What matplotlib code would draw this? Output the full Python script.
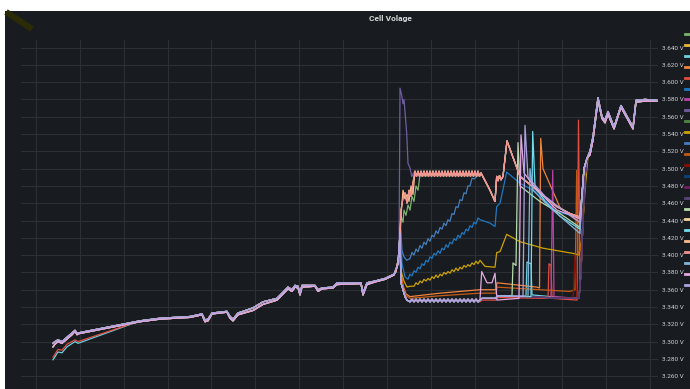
import matplotlib
matplotlib.use("Agg")
import matplotlib.pyplot as plt
from matplotlib.patches import Rectangle
from matplotlib.lines import Line2D

plt.rcParams['font.family'] = ['Roboto', 'DejaVu Sans']

# time axis in minutes, voltage in V
TRUNK_HEAD_T = [53, 55, 58, 62, 65, 68, 72, 75, 77, 78]
TRUNK_HEAD_V = [3.298, 3.300, 3.302, 3.300, 3.303, 3.306, 3.310, 3.313, 3.310, 3.310]
TRUNK_HEAD2_V = [3.294, 3.297, 3.300, 3.298, 3.301, 3.304, 3.308, 3.312, 3.308, 3.309]
LOW_HEAD_T = [53, 58, 62, 67, 75, 78]
CYAN_HEAD_V = [3.279, 3.288, 3.287, 3.294, 3.300, 3.298]
RED_HEAD_V = [3.282, 3.291, 3.290, 3.297, 3.302, 3.300]
TRUNK_BODY_T = [140, 160, 190, 202, 205, 208, 212, 227, 230, 233, 238, 253, 263, 277, 288, 292,
                295, 298, 300, 302, 315, 318, 322, 333, 337, 361, 363, 367, 375, 385, 394]
TRUNK_BODY_V = [3.324, 3.327, 3.329, 3.332, 3.325, 3.326, 3.333, 3.335, 3.329, 3.326, 3.333, 3.339,
                3.346, 3.350, 3.363, 3.360, 3.365, 3.364, 3.356, 3.365, 3.365, 3.360, 3.362, 3.363,
                3.368, 3.368, 3.356, 3.368, 3.370, 3.373, 3.378]
TRUNK_BODY2_V = [3.323, 3.326, 3.328, 3.331, 3.323, 3.324, 3.332, 3.334, 3.327, 3.324, 3.331, 3.336,
                 3.343, 3.348, 3.361, 3.358, 3.363, 3.362, 3.354, 3.363, 3.364, 3.358, 3.361, 3.362,
                 3.366, 3.367, 3.354, 3.366, 3.369, 3.372, 3.377]

FINAL_T = [590, 593, 598, 602, 605, 608, 614, 621, 633, 636, 645, 657]
FINAL_V = [3.520, 3.537, 3.582, 3.560, 3.556, 3.566, 3.548, 3.573, 3.548, 3.579, 3.580, 3.579]
FINAL2_V = [3.516, 3.533, 3.579, 3.558, 3.553, 3.563, 3.546, 3.571, 3.546, 3.577, 3.578, 3.578]

# cells that sit low after the jump
BASE_DROP_T = [398, 400, 401, 403, 405, 407]
BASE_DROP_V = [3.390, 3.425, 3.368, 3.360, 3.352, 3.348]
BASE_TEETH_T = [410, 412, 414, 416, 418, 420, 422, 424, 426, 428, 430, 432, 434, 436, 438, 440, 442, 444,
                446, 448, 450, 452, 454, 456, 458, 460, 462, 464, 466, 468, 470, 472, 474, 476, 478]
BASE_TEETH_V = [3.346, 3.349, 3.346, 3.349, 3.346, 3.349, 3.346, 3.349, 3.346, 3.349, 3.346, 3.349,
                3.346, 3.349, 3.346, 3.349, 3.346, 3.349, 3.346, 3.349, 3.346, 3.349, 3.346, 3.349,
                3.346, 3.349, 3.346, 3.349, 3.346, 3.349, 3.346, 3.349, 3.346, 3.349, 3.346]
PLAIN_T = [480, 482, 496, 497, 530, 560, 579, 581, 583, 585, 587]
PLAIN_V = [3.348, 3.350, 3.350, 3.353, 3.352, 3.350, 3.350, 3.380, 3.440, 3.490, 3.512]

# cells that sit at the 3.497 plateau
PEACH_T = [415, 416.5, 418, 419.5, 421, 422.5, 424, 425.5, 427, 428.5, 430, 431.5, 433, 434.5, 436,
           437.5, 439, 440.5, 442, 443.5, 445, 446.5, 448, 449.5, 451, 452.5, 454, 455.5, 457, 458.5,
           460, 461.5, 463, 464.5, 466, 467.5, 469, 470.5, 472, 473.5, 475, 476.5, 478, 479.5]
PEACH_V = [3.497, 3.491, 3.497, 3.491, 3.497, 3.491, 3.497, 3.491, 3.497, 3.491, 3.497, 3.491,
           3.497, 3.491, 3.497, 3.491, 3.497, 3.491, 3.497, 3.491, 3.497, 3.491, 3.497, 3.491,
           3.497, 3.491, 3.497, 3.491, 3.497, 3.491, 3.497, 3.491, 3.497, 3.491, 3.497, 3.491,
           3.497, 3.491, 3.497, 3.491, 3.497, 3.491, 3.497, 3.491]
PEACH_END_T = [481, 490, 495, 496.7, 498, 499.5, 501, 503, 507, 520, 537, 557, 570, 580, 582, 584, 587]
PEACH_END_V = [3.495, 3.475, 3.462, 3.491, 3.486, 3.492, 3.487, 3.491, 3.532, 3.491, 3.475, 3.456,
               3.448, 3.444, 3.470, 3.500, 3.512]
PEACH_PRE_T = [396, 399, 401, 403, 405, 407, 409, 411, 413]
PEACH_PRE_V = [3.381, 3.400, 3.445, 3.475, 3.465, 3.470, 3.462, 3.480, 3.470]
PEACH_PRE2_V = [3.381, 3.400, 3.452, 3.466, 3.472, 3.460, 3.475, 3.468, 3.484]

GREEN_PRE_T = [396, 399, 401, 403, 404, 406, 408, 410, 412, 414, 416, 418, 420]
GREEN_PRE_V = [3.381, 3.400, 3.445, 3.438, 3.452, 3.446, 3.458, 3.452, 3.468, 3.462, 3.480, 3.475, 3.493]

SPIKE_PRE_T = [396, 399, 400, 401.7, 403, 404, 406.7, 408, 410, 411.7, 413]
SPIKE_PRE_V = [3.381, 3.400, 3.593, 3.585, 3.575, 3.580, 3.541, 3.506, 3.501, 3.491, 3.494]

BLUE1_PRE_T = [396, 399, 400.5, 402, 404, 406.7]
BLUE1_PRE_V = [3.381, 3.400, 3.435, 3.405, 3.398, 3.394]
BLUE1_T = [410, 412, 414, 416, 418, 420, 422, 424, 426, 428, 430, 432, 434, 436, 438, 440, 442,
           444, 446, 448, 450, 452, 454, 456, 458, 460, 462, 464, 466, 468, 470, 472, 474]
BLUE1_V = [3.396, 3.403, 3.400, 3.407, 3.404, 3.411, 3.408, 3.415, 3.412, 3.419, 3.416, 3.423,
           3.421, 3.428, 3.425, 3.432, 3.430, 3.437, 3.434, 3.441, 3.439, 3.448, 3.447, 3.456,
           3.455, 3.464, 3.463, 3.472, 3.471, 3.480, 3.480, 3.489, 3.488]

BLUE2_PRE_T = [396, 399, 400.5, 402, 405]
BLUE2_PRE_V = [3.381, 3.400, 3.430, 3.390, 3.375]
BLUE2_T = [408, 410, 412, 414, 416, 418, 420, 422, 424, 426, 428, 430, 432, 434, 436, 438, 440, 442,
           444, 446, 448, 450, 452, 454, 456, 458, 460, 462, 464, 466, 468, 470, 472, 474, 476, 478, 480]
BLUE2_V = [3.372, 3.378, 3.376, 3.382, 3.380, 3.386, 3.384, 3.390, 3.388, 3.394, 3.392, 3.398,
           3.396, 3.402, 3.400, 3.405, 3.402, 3.408, 3.406, 3.412, 3.409, 3.415, 3.413, 3.419,
           3.417, 3.423, 3.420, 3.426, 3.424, 3.430, 3.428, 3.434, 3.432, 3.438, 3.436, 3.443, 3.441]
BLUE2_END_T = [490, 495, 496.7, 500, 506.7, 520, 536.7, 556.7, 580, 582, 584, 587]
BLUE2_END_V = [3.437, 3.433, 3.456, 3.460, 3.496, 3.483, 3.473, 3.450, 3.444, 3.470, 3.500, 3.512]

YELLOW_PRE_T = [396, 399, 401, 404, 407, 410]
YELLOW_PRE_V = [3.381, 3.400, 3.382, 3.370, 3.363, 3.364]
YELLOW_T = [414, 416, 418, 420, 422, 424, 426, 428, 430, 432, 434, 436, 438, 440, 442, 444, 446,
            448, 450, 452, 454, 456, 458, 460, 462, 464, 466, 468, 470, 472, 474, 476, 478, 480]
YELLOW_V = [3.364, 3.368, 3.366, 3.370, 3.368, 3.372, 3.370, 3.373, 3.371, 3.375, 3.373, 3.377,
            3.374, 3.378, 3.376, 3.380, 3.378, 3.381, 3.379, 3.383, 3.381, 3.385, 3.382, 3.386,
            3.384, 3.388, 3.386, 3.389, 3.387, 3.391, 3.389, 3.393, 3.390, 3.394]
YELLOW_END_T = [485, 495, 496.7, 500, 506.7, 520, 543, 573, 579, 582, 585, 588]
YELLOW_END_V = [3.387, 3.386, 3.403, 3.404, 3.424, 3.4155, 3.408, 3.402, 3.400, 3.420, 3.475, 3.514]

# low cells with their own events after t=478
CYAN_T = [480, 482, 496, 497, 526, 527, 531, 532, 560, 579, 581, 583, 585, 587]
CYAN_V = [3.348, 3.350, 3.350, 3.353, 3.353, 3.392, 3.390, 3.354, 3.351, 3.350, 3.380, 3.440, 3.490, 3.512]
RED_T = [480, 482, 496, 497, 548, 549, 551, 552, 577, 578.5, 580, 581, 583, 585, 587]
RED_V = [3.346, 3.348, 3.348, 3.351, 3.350, 3.390, 3.388, 3.350, 3.348, 3.556, 3.370, 3.380, 3.440, 3.490, 3.512]
PURPLE_T = [480, 482, 496, 497, 551, 552.7, 554, 579, 581, 583, 585, 587]
PURPLE_V = [3.348, 3.350, 3.350, 3.353, 3.351, 3.498, 3.352, 3.350, 3.380, 3.440, 3.490, 3.512]
DARKRED_T = [480, 482, 496, 497, 573, 575, 577, 579, 581, 583, 585, 587]
DARKRED_V = [3.348, 3.350, 3.350, 3.353, 3.350, 3.400, 3.352, 3.350, 3.380, 3.440, 3.490, 3.512]
MINT_T = [480, 482, 496, 497, 512, 513, 516, 518, 520, 540, 560, 580, 582, 584, 587]
MINT_V = [3.348, 3.350, 3.350, 3.353, 3.353, 3.391, 3.388, 3.530, 3.480, 3.462, 3.448, 3.432, 3.470, 3.500, 3.512]
AQUA_T = [480, 482, 496, 497, 531, 532.7, 535, 545, 560, 580, 582, 584, 587]
AQUA_V = [3.348, 3.350, 3.350, 3.353, 3.352, 3.543, 3.480, 3.462, 3.445, 3.430, 3.470, 3.500, 3.512]
SKY_T = [480, 482, 496, 497, 528, 530, 533, 550, 565, 580, 582, 584, 587]
SKY_V = [3.348, 3.350, 3.350, 3.353, 3.352, 3.500, 3.475, 3.455, 3.440, 3.425, 3.465, 3.500, 3.512]
PINK_T = [480, 481.7, 487, 492, 495, 497, 519, 521, 524, 535, 557, 580, 582, 584, 587]
PINK_V = [3.349, 3.381, 3.368, 3.368, 3.379, 3.348, 3.350, 3.539, 3.495, 3.478, 3.452, 3.442, 3.470, 3.500, 3.512]
LAV_T = [480, 482, 496, 497, 523, 525, 528, 545, 565, 580, 582, 584, 587]
LAV_V = [3.348, 3.350, 3.350, 3.353, 3.352, 3.550, 3.490, 3.468, 3.450, 3.438, 3.470, 3.500, 3.512]

ORANGE_T = [398, 400, 401, 403, 406, 410, 440, 480, 496, 497, 537, 539.5, 540.7, 543, 560, 580, 582, 584, 587]
ORANGE_V = [3.390, 3.425, 3.380, 3.365, 3.355, 3.352, 3.356, 3.360, 3.360, 3.368, 3.363, 3.362, 3.535,
            3.500, 3.455, 3.437, 3.470, 3.500, 3.512]
DKORANGE_T = [398, 400, 401, 403, 406, 410, 440, 480, 496, 497, 540, 570, 575, 576.7, 578, 581, 583, 585, 587]
DKORANGE_V = [3.390, 3.425, 3.378, 3.362, 3.353, 3.350, 3.353, 3.356, 3.356, 3.363, 3.360, 3.358, 3.360,
              3.498, 3.400, 3.410, 3.440, 3.490, 3.512]

COLORS = ['#7EB26D', '#EAB839', '#6ED0E0', '#EF843C', '#E24D42', '#1F78C1', '#BA43A9', '#705DA0',
          '#508642', '#CCA300', '#447EBC', '#C15C17', '#890F02', '#0A437C', '#6D1F62', '#584477',
          '#B7DBAB', '#F4D598', '#70DBED', '#F9BA8F', '#F29191', '#82B5D8', '#E5A8E2', '#AEA2E0']


def path(*parts):
    t, v = [], []
    for pt, pv in parts:
        t += list(pt)
        v += list(pv)
    return t, v


head = (TRUNK_HEAD_T, TRUNK_HEAD_V)
head2 = (TRUNK_HEAD_T, TRUNK_HEAD2_V)
body = (TRUNK_BODY_T, TRUNK_BODY_V)
body2 = (TRUNK_BODY_T, TRUNK_BODY2_V)
final = (FINAL_T, FINAL_V)
final2 = (FINAL_T, FINAL2_V)
base = [(BASE_DROP_T, BASE_DROP_V), (BASE_TEETH_T, BASE_TEETH_V)]
peach = [(PEACH_T, PEACH_V), (PEACH_END_T, PEACH_END_V)]

series = [
    path(head, body, (GREEN_PRE_T, GREEN_PRE_V), (PEACH_T[5:], PEACH_V[5:]), (PEACH_END_T, PEACH_END_V), final),
    path(head2, body2, *base, (PLAIN_T, PLAIN_V), final2),
    path((LOW_HEAD_T, CYAN_HEAD_V), body, *base, (CYAN_T, CYAN_V), final),
    path(head, body2, (ORANGE_T, ORANGE_V), final2),
    path((LOW_HEAD_T, RED_HEAD_V), body, *base, (RED_T, RED_V), final),
    path(head2, body2, (BLUE2_PRE_T, BLUE2_PRE_V), (BLUE2_T, BLUE2_V), (BLUE2_END_T, BLUE2_END_V), final2),
    path(head, body, *base, (PURPLE_T, PURPLE_V), final),
    path(head, body, (SPIKE_PRE_T, SPIKE_PRE_V), *peach, final),
    path(head2, body2, *base, (PLAIN_T, PLAIN_V), final2),
    path(head, body, (YELLOW_PRE_T, YELLOW_PRE_V), (YELLOW_T, YELLOW_V), (YELLOW_END_T, YELLOW_END_V), final),
    path(head, body2, (BLUE1_PRE_T, BLUE1_PRE_V), (BLUE1_T, BLUE1_V), (PEACH_END_T, PEACH_END_V), final2),
    path(head, body, (DKORANGE_T, DKORANGE_V), final),
    path(head2, body2, *base, (DARKRED_T, DARKRED_V), final2),
    path(head, body, *base, (PLAIN_T, PLAIN_V), final),
    path(head2, body2, *base, (PLAIN_T, PLAIN_V), final2),
    path(head, body, *base, (PLAIN_T, PLAIN_V), final),
    path(head2, body2, *base, (MINT_T, MINT_V), final2),
    path(head, body, (PEACH_PRE_T, PEACH_PRE2_V), *peach, final),
    path(head2, body2, *base, (AQUA_T, AQUA_V), final2),
    path(head, body, (PEACH_PRE_T, PEACH_PRE_V), *peach, final),
    path(head2, body2, (PEACH_PRE_T, PEACH_PRE2_V), *peach, final2),
    path(head, body, *base, (SKY_T, SKY_V), final),
    path(head2, body2, *base, (PINK_T, PINK_V), final2),
    path(head, body, *base, (LAV_T, LAV_V), final),
]

W, H = 690, 389
fig = plt.figure(figsize=(W / 100, H / 100), dpi=100, facecolor='white')
fig.patches.append(Rectangle((5 / W, 0), 1, 1 - 11 / H, transform=fig.transFigure,
                             facecolor='#181b1f', edgecolor='none', zorder=-10))
fig.add_artist(Line2D([6 / W, 32 / W], [1 - 12 / H, 1 - 29 / H], color='#2b2b08', lw=4.5,
                      solid_capstyle='butt'))
fig.text(390 / W, 1 - 18 / H, 'Cell Volage', color='#d8d9da', fontsize=6,
         fontweight='bold', ha='center', va='center')

ax = fig.add_axes([21 / W, 0, (658 - 21) / W, (389 - 40) / H])
ax.set_facecolor('none')
for s in ax.spines.values():
    s.set_visible(False)

lines = []
for i, (t, v) in enumerate(series):
    ln, = ax.plot(t, v, color=COLORS[i], lw=0.9)
    lines.append(ln)

ax.set_xlim(21, 658)
ax.set_ylim(3.2452, 3.6487)
ax.set_xticks([36 + 43.86 * k for k in range(15)])
ax.set_xticklabels([])
yt = [3.26 + 0.02 * k for k in range(20)]
ax.set_yticks(yt)
ax.set_yticklabels(['%.3f V' % y for y in yt])
ax.yaxis.tick_right()
ax.tick_params(axis='both', length=0)
ax.tick_params(axis='y', colors='#cfd0d6', labelsize=4.6, pad=3)
ax.grid(True, color='#2c2f34', lw=0.8)
ax.set_axisbelow(True)

# legend is cut off by the panel edge: only the colour keys show
leg = ax.legend(handles=lines, labels=[''] * len(lines), loc='upper left',
                bbox_to_anchor=(685 / W, 1 - 31 / H), bbox_transform=fig.transFigure,
                frameon=False, fontsize=6, labelspacing=0.49,
                handlelength=0.6, handletextpad=0.2, borderpad=0, borderaxespad=0)
for h in leg.get_lines():
    h.set_linewidth(2)

fig.savefig('out.png', dpi=100, facecolor='white')
